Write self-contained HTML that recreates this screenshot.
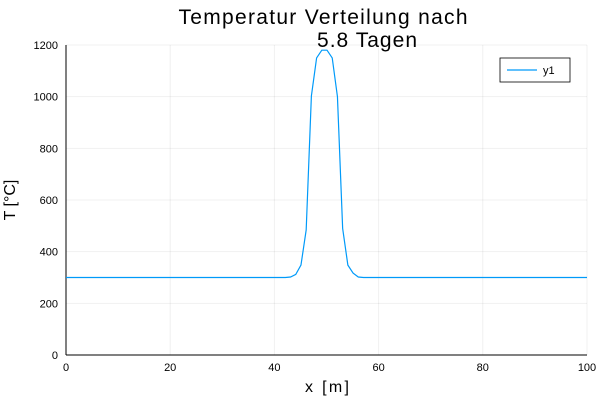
<!DOCTYPE html>
<html><head><meta charset="utf-8"><style>
body{margin:0;background:#fff;font-family:"Liberation Sans",sans-serif}
svg text{font-family:"Liberation Sans",sans-serif}
</style></head><body>
<svg id="c" width="600" height="400">
<text x="323" y="24" font-size="21" text-anchor="middle" textLength="289">Temperatur Verteilung nach</text>
<text x="367" y="47" font-size="21" text-anchor="middle" textLength="100">5.8 Tagen</text>
<g id="grid"></g><g id="ticks"></g>
<line x1="66" y1="355" x2="587" y2="355" stroke="#000"/>
<line x1="66" y1="45" x2="66" y2="355" stroke="#000"/>
<polyline id="line" fill="none" stroke="#009af9" stroke-width="1.2"/>
<text x="327" y="392" font-size="16" text-anchor="middle" textLength="44">x [m]</text>
<text x="15" y="200" font-size="16" text-anchor="middle" transform="rotate(-90 15 200)">T [°C]</text>
<g>
<rect x="500" y="58" width="70" height="24" fill="#fff" stroke="#000" stroke-width="0.8"/>
<line x1="507" y1="70" x2="537" y2="70" stroke="#009af9" stroke-width="1.2"/>
<text x="543" y="74" font-size="11">y1</text></g>
</svg>
<script>
const xs=[0,42.1,43.1,44.1,45.1,46.1,47.1,48.1,49.1,50.1,51.1,52.1,53.1,54.1,55.1,56.1,57.1,100];
const ts=[300,300,302,312,348,484,1003,1150,1180,1180,1150,1000,490,348,317,302,300,300];
const xTicks=[0,20,40,60,80,100];
const yTicks=[0,200,400,600,800,1000,1200];
const X=v=>66+v*5.21, Y=v=>355-v*(310/1200);
const ns="http://www.w3.org/2000/svg";
const g=document.getElementById('grid'), tk=document.getElementById('ticks');
function mk(t,a,p){const e=document.createElementNS(ns,t);for(const k in a)e.setAttribute(k,a[k]);p.appendChild(e);return e;}
xTicks.forEach(v=>{
 const l=mk('line',{x1:X(v),x2:X(v),y1:45,y2:355,stroke:'#000','stroke-opacity':0.06},g);
 
 
 const t=mk('text',{x:X(v),y:371,'font-size':11,'text-anchor':'middle'},tk);t.textContent=v;
 
 
});
yTicks.forEach(v=>{
 const l=mk('line',{x1:66,x2:587,y1:Y(v),y2:Y(v),stroke:'#000','stroke-opacity':0.06},g);
 
 
 const t=mk('text',{x:58,y:Y(v)+4,'font-size':11,'text-anchor':'end'},tk);t.textContent=v;
 
 
});
document.getElementById('line').setAttribute('points',xs.map((v,i)=>X(v)+','+Y(ts[i])).join(' '));
</script>
</body></html>
